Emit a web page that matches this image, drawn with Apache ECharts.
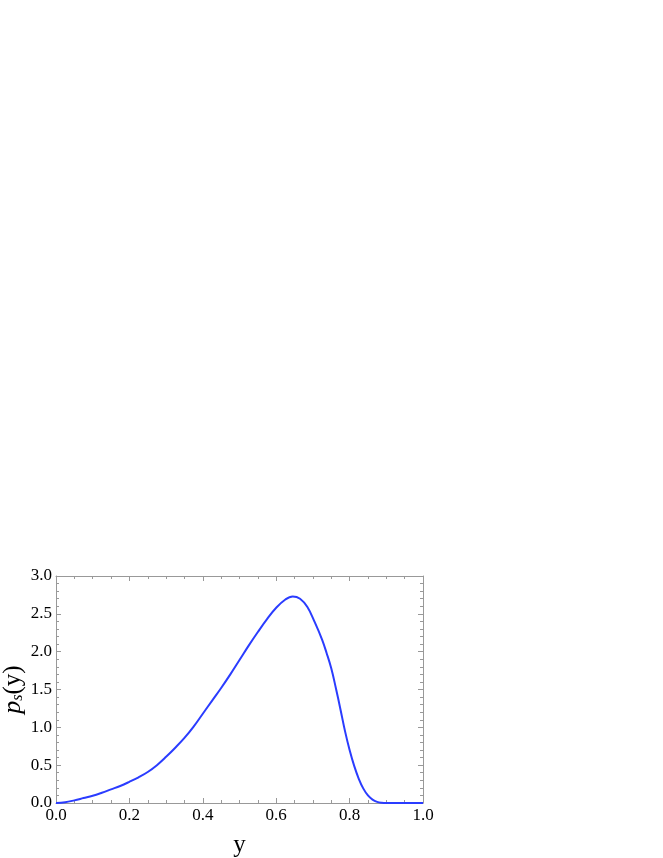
<!DOCTYPE html>
<html>
<head>
<meta charset="utf-8">
<script src="https://cdn.jsdelivr.net/npm/echarts@6/dist/echarts.min.js"></script>
<style>html,body{margin:0;padding:0;background:#fff;}#c{width:663px;height:858px;}</style>
</head>
<body>
<div id="c"></div>
<script>
var xValues = [0, 0.025, 0.05, 0.075, 0.1, 0.125, 0.15, 0.175, 0.2, 0.225, 0.25, 0.275, 0.3, 0.325, 0.35, 0.375, 0.4, 0.425, 0.45, 0.475, 0.5, 0.525, 0.55, 0.575, 0.6, 0.625, 0.645, 0.665, 0.685, 0.705, 0.725, 0.7375, 0.75, 0.7625, 0.775, 0.7875, 0.8, 0.8125, 0.825, 0.8375, 0.85, 0.8625, 0.875, 0.8875, 0.9, 0.95, 1.0];
var psValues = [0, 0.01, 0.035, 0.065, 0.095, 0.135, 0.18, 0.225, 0.28, 0.34, 0.41, 0.5, 0.61, 0.73, 0.86, 1.01, 1.18, 1.35, 1.52, 1.7, 1.89, 2.08, 2.26, 2.43, 2.58, 2.69, 2.73, 2.7, 2.59, 2.39, 2.16, 1.98, 1.78, 1.52, 1.24, 0.95, 0.7, 0.49, 0.32, 0.19, 0.1, 0.045, 0.015, 0.003, 0, 0, 0];
var xTicks = [0, 0.2, 0.4, 0.6, 0.8, 1.0];
var yTicks = [0, 0.5, 1.0, 1.5, 2.0, 2.5, 3.0];

var axisColor = '#999999';
var font = 'Liberation Serif';
var data = xValues.map(function (x, i) { return [x, psValues[i]]; });

function xAxisCfg(pos, labels) {
  return {
    type: 'value', position: pos, min: 0, max: 1, interval: 0.2,
    axisLine: { show: true, onZero: false, lineStyle: { color: axisColor, width: 1 } },
    axisTick: { show: true, inside: true, length: 5, lineStyle: { color: axisColor } },
    minorTick: { show: true, splitNumber: 4, length: 3, lineStyle: { color: axisColor } },
    splitLine: { show: false },
    axisLabel: labels ? {
      show: true, margin: 4, color: '#000', fontFamily: font, fontSize: 17,
      formatter: function (v) { return v.toFixed(1); }
    } : { show: false },
    name: labels ? 'y' : '', nameLocation: 'middle', nameGap: 30, nameMoveOverlap: false,
    nameTextStyle: { color: '#000', fontFamily: font, fontSize: 25 }
  };
}
function yAxisCfg(pos, labels) {
  return {
    type: 'value', position: pos, min: 0, max: 3, interval: 0.5,
    axisLine: { show: true, onZero: false, lineStyle: { color: axisColor, width: 1 } },
    axisTick: { show: true, inside: true, length: 5, lineStyle: { color: axisColor } },
    minorTick: { show: true, splitNumber: 5, length: 3, lineStyle: { color: axisColor } },
    splitLine: { show: false },
    axisLabel: labels ? {
      show: true, margin: 4, color: '#000', fontFamily: font, fontSize: 17,
      formatter: function (v) { return v.toFixed(1); }
    } : { show: false },
    name: labels ? '{p|p}{s|s}{n|(y)}' : '', nameLocation: 'middle', nameGap: 30, nameRotate: 90, nameMoveOverlap: false,
    nameTextStyle: {
      color: '#000', fontFamily: font, fontSize: 25,
      rich: {
        p: { fontFamily: font, fontStyle: 'italic', fontSize: 26, color: '#000' },
        s: { fontFamily: font, fontStyle: 'italic', fontSize: 16, color: '#000', verticalAlign: 'bottom', padding: [8, 0, 0, 0] },
        n: { fontFamily: font, fontSize: 25, color: '#000' }
      }
    }
  };
}

var chart = echarts.init(document.getElementById('c'), null, { renderer: 'canvas' });
chart.setOption({
  animation: false,
  backgroundColor: '#fff',
  grid: { left: 56, right: 240, top: 576, bottom: 55, containLabel: false, outerBoundsMode: 'none' },
  xAxis: [xAxisCfg('bottom', true), xAxisCfg('top', false)],
  yAxis: [yAxisCfg('left', true), yAxisCfg('right', false)],
  series: [{
    type: 'line', data: data, xAxisIndex: 0, yAxisIndex: 0,
    smooth: 0.4, showSymbol: false, symbol: 'none',
    lineStyle: { color: '#2a3cff', width: 2 }
  }]
});
</script>
</body>
</html>
